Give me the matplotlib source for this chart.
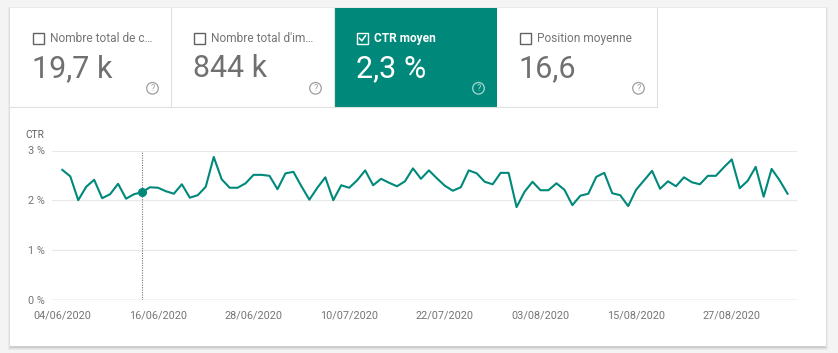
import pandas as pd
import numpy as np
import matplotlib.pyplot as plt
from matplotlib.patches import Rectangle, Circle

plt.rcParams['font.family'] = ['Roboto', 'DejaVu Sans']

## data ##
dates = pd.date_range('2020-06-04', '2020-09-03', freq='D')
ctr = [2.61, 2.48, 2.00, 2.27, 2.41, 2.04, 2.12, 2.33, 2.03, 2.12,
       2.16, 2.26, 2.25, 2.18, 2.13, 2.32, 2.05, 2.10, 2.27, 2.87,
       2.42, 2.25, 2.25, 2.34, 2.51, 2.51, 2.49, 2.22, 2.54, 2.57,
       2.28, 2.01, 2.25, 2.46, 2.00, 2.30, 2.25, 2.40, 2.60, 2.30,
       2.43, 2.35, 2.28, 2.38, 2.64, 2.43, 2.60, 2.44, 2.29, 2.19,
       2.26, 2.60, 2.54, 2.37, 2.32, 2.55, 2.55, 1.86, 2.17, 2.37,
       2.20, 2.20, 2.34, 2.21, 1.90, 2.09, 2.13, 2.47, 2.55, 2.14,
       2.10, 1.88, 2.21, 2.40, 2.59, 2.23, 2.38, 2.28, 2.46, 2.36,
       2.32, 2.49, 2.49, 2.66, 2.82, 2.24, 2.39, 2.67, 2.07, 2.63,
       2.40, 2.13]
x_labels = ['04/06/2020', '16/06/2020', '28/06/2020', '10/07/2020',
            '22/07/2020', '03/08/2020', '15/08/2020', '27/08/2020']
y_ticks = [0, 1, 2, 3]
y_labels = ['0 %', '1 %', '2 %', '3 %']
hover_date = '2020-06-14'

card_titles = ['Nombre total de c…', "Nombre total d'im…", 'CTR moyen', 'Position moyenne']
card_values = ['19,7 k', '844 k', '2,3 %', '16,6']
card_selected = [False, False, True, False]

teal = '#00897b'
W, H = 838, 353

fig = plt.figure(figsize=(W / 100, H / 100), dpi=100)
fig.patch.set_facecolor('#f4f4f4')

# background axes in pixel coordinates
bg = fig.add_axes([0, 0, 1, 1])
bg.set_xlim(0, W)
bg.set_ylim(H, 0)
bg.axis('off')

# card with soft shadow
for i, a in enumerate([0.04, 0.05, 0.07]):
    d = 3 - i
    bg.add_patch(Rectangle((10 - d + 1, 8 - d + 2), 816 + 2 * d - 2, 338 + 2 * d - 1,
                           facecolor='#000000', alpha=a, edgecolor='none'))
bg.add_patch(Rectangle((10, 8), 816, 338, facecolor='white', edgecolor='none'))

## metric tiles ##
tile_x = [10, 171, 334, 497]
tile_w = [161, 163, 163, 160]
bg.plot([10, 657], [107, 107], color='#e0e0e0', lw=0.8)
for i in range(4):
    x0 = tile_x[i]
    sel = card_selected[i]
    fg = 'white' if sel else '#707070'
    if sel:
        bg.add_patch(Rectangle((x0, 8), tile_w[i], 99.5, facecolor=teal, edgecolor='none'))
    else:
        bg.plot([x0 + tile_w[i], x0 + tile_w[i]], [8, 107], color='#e0e0e0', lw=0.8)
    # checkbox
    bg.add_patch(Rectangle((x0 + 23, 33), 10.5, 10.5, facecolor='none',
                           edgecolor='white' if sel else '#616161', lw=1.0))
    if sel:
        bg.plot([x0 + 25.5, x0 + 27.8, x0 + 31.5], [38.3, 40.8, 35.8], color='white', lw=1.1)
    bg.text(x0 + 40, 38.5, card_titles[i], fontsize=8.6, color='white' if sel else '#757575',
            fontweight='bold' if sel else 'normal', va='center', ha='left')
    bg.text(x0 + 21.5, 68.5, card_values[i], fontsize=22, color=fg,
            va='center', ha='left')
    # help icon
    cx = x0 + tile_w[i] - 18.5
    icol = '#a8d8d0' if sel else '#9e9e9e'
    bg.add_patch(Circle((cx, 88.3), 5.8, facecolor='none', edgecolor=icol, lw=0.9))
    bg.text(cx, 88.6, '?', fontsize=6.5, color=icol, ha='center', va='center')

## chart ##
left, right = 52, 797
y0px, y3px = 299.5, 150.5
ax = fig.add_axes([left / W, (H - y0px) / H, (right - left) / W, (y0px - y3px) / H])
ax.patch.set_alpha(0)
xs = np.arange(len(dates))
px_day = 7.97
ax.set_xlim(-(62.3 - left) / px_day, (right - 62.3) / px_day)
ax.set_ylim(0, 3)

for yv in y_ticks[1:]:
    ax.axhline(yv, color='#e8e8e8', lw=0.8, zorder=1)
ax.axhline(0, color='#9e9e9e', lw=0.9, zorder=1)

hx = list(dates.strftime('%Y-%m-%d')).index(hover_date)
ax.plot([hx, hx], [0, 3], color='#757575', lw=0.8, ls=(0, (1, 1.2)), zorder=2)
ax.plot(xs, ctr, color=teal, lw=1.5, zorder=3)
ax.plot(hx, ctr[hx], 'o', color=teal, ms=5.5, zorder=4)

label_days = [list(dates.strftime('%d/%m/%Y')).index(s) for s in x_labels]
ax.set_xticks(label_days)
ax.set_xticklabels(x_labels, fontsize=7.8, color='#757575')
ax.set_yticks(y_ticks)
ax.set_yticklabels(y_labels, fontsize=7.8, color='#757575')
ax.tick_params(length=0)
ax.tick_params(axis='x', pad=8)
ax.tick_params(axis='y', pad=5)
for s in ax.spines.values():
    s.set_visible(False)

bg.text(25, 135, 'CTR', fontsize=7.3, color='#616161', ha='left', va='center')

fig.savefig('out.png', dpi=100, facecolor=fig.get_facecolor())
